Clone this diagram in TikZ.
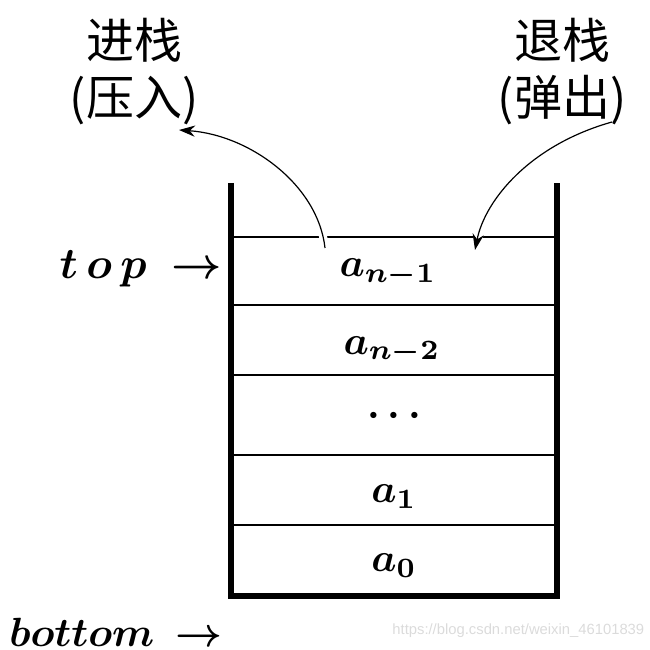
\documentclass[tikz,border=0pt]{standalone}
\usepackage{fix-cm}
\usepackage{fontspec}
\newfontfamily\cjk{Noto Sans CJK SC}
\newfontfamily\wm{Liberation Sans}
\usetikzlibrary{arrows.meta}
\begin{document}
\begin{tikzpicture}[x=0.25pt,y=-0.25pt,
  wall/.style={line width=1.3pt, line join=miter},
  sep/.style={line width=0.4pt},
  cell/.style={font=\fontsize{10}{12}\selectfont\boldmath, inner sep=0pt, anchor=base},
  side/.style={font=\fontsize{10.95}{13}\selectfont\boldmath, inner sep=0pt, anchor=base east},
  cn/.style={font=\cjk\fontsize{12}{14.25}\selectfont, align=center, inner sep=0pt},
  flow/.style={line width=0.3pt, -{Stealth[length=4pt,width=2.8pt]}, preaction={draw=white, line width=2pt}}]
\useasboundingbox (0,0) rectangle (650,650);
% stack walls
\coordinate (tl) at (231,183);
\coordinate (bl) at (231,596);
\coordinate (br) at (557,596);
\coordinate (tr) at (557,183);
\draw[wall] (tl) -- (bl) -- (br) -- (tr);
% separators
\foreach \y/\n in {237/s1,305/s2,375/s3,455/s4,525/s5}{
  \coordinate (\n l) at (231,\y);
  \coordinate (\n r) at (557,\y);
  \draw[sep] (\n l) -- (\n r);
}
% cell labels
\node[cell] (an1) at (388,277) {$a_{n-1}$};
\node[cell] (an2) at (392,354) {$a_{n-2}$};
\node[cell] (dots) at (394,426) {$\cdots$};
\node[cell] (a1) at (394,502) {$a_1$};
\node[cell] (a0) at (394,571) {$a_0$};
% side labels
\node[side] (top) at (223,279) {$t\,o\,p\mkern4mu\rightarrow$};
\node[side, font=\fontsize{10.2}{12}\selectfont\boldmath] (bottom) at (223,646) {$bottom\mkern3mu\rightarrow$};
% Chinese labels
\node[cn] (push) at (134,72) {进栈\\(压入)};
\node[cn] (pop) at (562,72) {退栈\\(弹出)};
% arrows
\coordinate (pushstart) at (325,248);
\coordinate (pushend) at (179,130);
\coordinate (popstart) at (612,122);
\coordinate (popend) at (475,250);
\draw[flow] (pushstart) .. controls (318,185) and (250,135) .. (pushend);
\draw[flow] (popstart) .. controls (530,145) and (485,200) .. (popend);
% watermark
\node[font=\wm\fontsize{3.7}{4}\selectfont, text=black!14, inner sep=0pt, anchor=base east] (mark) at (645,634) {https://blog.csdn.net/weixin\_46101839};
\end{tikzpicture}
\end{document}
